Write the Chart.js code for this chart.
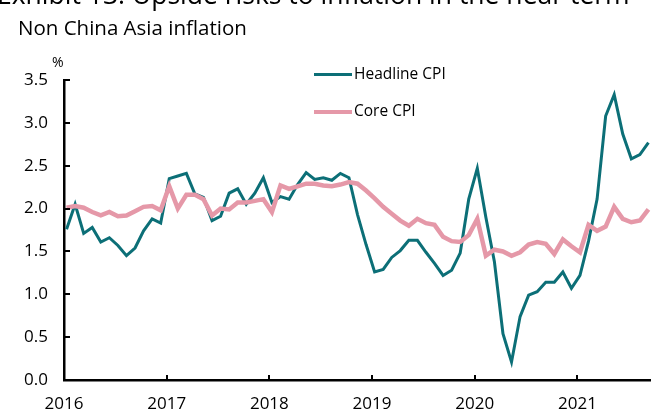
<!DOCTYPE html>
<html lang="en">
<head>
    <meta charset="utf-8">
    <title>Non China Asia inflation</title>
    <script src="https://cdn.jsdelivr.net/npm/chart.js"></script>
    <style>
        body { margin: 0; background: #fff; font-family: "Open Sans", "Noto Sans", sans-serif; color: #000; }
        #wrap { position: relative; width: 651px; height: 415px; overflow: hidden; }
        #chart { position: absolute; left: 0; top: 0; }
        .exhibit { position: absolute; left: -3px; top: -24px; font-size: 26.5px; white-space: nowrap; }
        .title { position: absolute; left: 18px; top: 13px; font-size: 20.5px; white-space: nowrap; }
        .unit { position: absolute; left: 52px; top: 52px; font-size: 14px; }
        .legend { position: absolute; left: 314px; font-size: 15.5px; white-space: nowrap; }
        .legend span { display: inline-block; width: 38px; vertical-align: middle; margin-right: 2px; }
    </style>
</head>
<body>
<div id="wrap">
    <canvas id="chart" width="651" height="415"></canvas>
    <div class="exhibit">Exhibit 13: Upside risks to inflation in the near term</div>
    <div class="title">Non China Asia inflation</div>
    <div class="unit">%</div>
    <div id="legend"></div>
</div>
<script>
    // monthly, Jan 2016 .. Sep 2021
    const years = ['2016', '2017', '2018', '2019', '2020', '2021'];
    const seriesNames = ['Headline CPI', 'Core CPI'];
    const seriesColors = ['#0c6f77', '#e598a8'];

    const headline = [
        1.76, 2.05, 1.71, 1.78, 1.61, 1.66, 1.57, 1.45, 1.54, 1.74, 1.88, 1.83,
        2.35, 2.38, 2.41, 2.17, 2.13, 1.86, 1.91, 2.18, 2.23, 2.05, 2.18, 2.36,
        2.07, 2.14, 2.11, 2.28, 2.42, 2.34, 2.36, 2.33, 2.41, 2.36, 1.93, 1.58,
        1.26, 1.29, 1.43, 1.51, 1.63, 1.63, 1.49, 1.36, 1.22, 1.28, 1.48, 2.11,
        2.47, 1.90, 1.38, 0.54, 0.21, 0.74, 0.99, 1.03, 1.14, 1.14, 1.26, 1.07,
        1.22, 1.62, 2.11, 3.08, 3.33, 2.87, 2.58, 2.63, 2.77
    ];
    const core = [
        2.01, 2.03, 2.01, 1.96, 1.92, 1.96, 1.91, 1.92, 1.97, 2.02, 2.03, 1.98,
        2.26, 2.00, 2.16, 2.16, 2.11, 1.92, 2.00, 1.99, 2.07, 2.07, 2.09, 2.11,
        1.96, 2.27, 2.23, 2.26, 2.29, 2.29, 2.27, 2.26, 2.28, 2.31, 2.29, 2.21,
        2.12, 2.02, 1.94, 1.86, 1.80, 1.88, 1.83, 1.81, 1.67, 1.62, 1.61, 1.69,
        1.88, 1.45, 1.52, 1.50, 1.45, 1.49, 1.58, 1.61, 1.59, 1.47, 1.64, 1.56,
        1.49, 1.81, 1.74, 1.79, 2.02, 1.88, 1.84, 1.86, 1.99
    ];

    const toPoints = (arr) => arr.map((v, i) => ({ x: i + 0.3, y: v }));

    // legend as html
    const legendEl = document.getElementById('legend');
    seriesNames.forEach((name, i) => {
        const d = document.createElement('div');
        d.className = 'legend';
        d.style.top = (62 + i * 37) + 'px';
        d.innerHTML = '<span style="border-top:' + (i === 0 ? 3 : 4.5) + 'px solid ' + seriesColors[i] + '"></span>' + name;
        legendEl.appendChild(d);
    });

    // small tick marks pointing into the plot, like the source
    const innerTicks = {
        id: 'innerTicks',
        afterDatasetsDraw(chart) {
            const c = chart.ctx;
            const xs = chart.scales.x, ys = chart.scales.y;
            c.save();
            c.strokeStyle = '#000';
            c.lineWidth = 2;
            c.beginPath();
            xs.ticks.forEach(t => {
                const px = Math.round(xs.getPixelForValue(t.value));
                if (t.value === 0) return;
                c.moveTo(px, ys.bottom);
                c.lineTo(px, ys.bottom - 5);
            });
            ys.ticks.forEach(t => {
                const py = Math.round(ys.getPixelForValue(t.value));
                c.moveTo(xs.left, py);
                c.lineTo(xs.left + 6, py);
            });
            c.stroke();
            c.restore();
        }
    };

    new Chart(document.getElementById('chart'), {
        type: 'line',
        data: {
            datasets: [{
                label: seriesNames[0],
                data: toPoints(headline),
                borderColor: seriesColors[0],
                borderWidth: 3,
                pointRadius: 0,
                tension: 0,
                order: 1
            }, {
                label: seriesNames[1],
                data: toPoints(core),
                borderColor: seriesColors[1],
                borderWidth: 4.5,
                pointRadius: 0,
                tension: 0,
                order: 0
            }]
        },
        options: {
            responsive: false,
            animation: false,
            layout: { padding: { top: 80, right: 0, left: 0, bottom: 0 } },
            plugins: { legend: { display: false }, tooltip: { enabled: false } },
            scales: {
                x: {
                    type: 'linear',
                    min: 0,
                    max: 68.6,
                    afterBuildTicks: (axis) => {
                        axis.ticks = years.map((y, i) => ({ value: i * 12 }));
                    },
                    afterFit: (axis) => { axis.height = 35; },
                    grid: { display: false, drawTicks: false },
                    border: { color: '#000', width: 2.5 },
                    ticks: {
                        padding: 14,
                        color: '#000',
                        font: { family: 'Open Sans', size: 17 },
                        maxRotation: 0,
                        autoSkip: false,
                        callback: (v) => years[Math.round(v / 12)]
                    }
                },
                y: {
                    min: 0,
                    max: 3.5,
                    afterFit: (axis) => { axis.width = 64; },
                    grid: { display: false, drawTicks: false },
                    border: { color: '#000', width: 2.5 },
                    ticks: {
                        stepSize: 0.5,
                        padding: 16,
                        color: '#000',
                        font: { family: 'Open Sans', size: 17 },
                        callback: (v) => v.toFixed(1)
                    }
                }
            }
        },
        plugins: [innerTicks]
    });
</script>
</body>
</html>
